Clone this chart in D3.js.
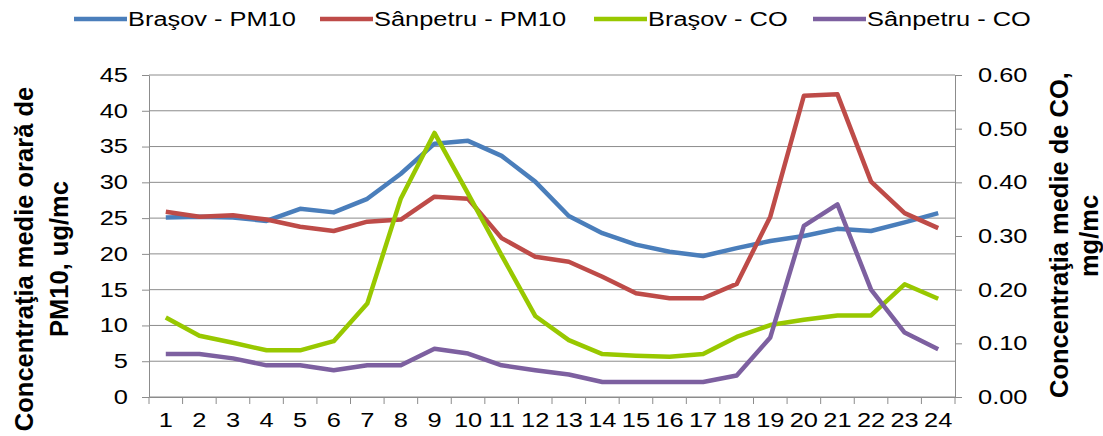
<!DOCTYPE html>
<html lang="ro">
<head>
    <meta charset="UTF-8">
    <title>PM10 / CO</title>
    <script src="https://d3js.org/d3.v7.min.js"></script>
    <style>
        body { margin: 0; background: #fff; }
        text { font-family: "Liberation Sans", Arial, sans-serif; fill: #000; }
    </style>
</head>
<body>
    <div class="canvas"></div>
    <script>
      // date
      const hours = d3.range(1, 25).map(String);
      const brasovPM10 = [25.1, 25.2, 25.1, 24.6, 26.3, 25.8, 27.7, 31.2, 35.4, 35.8, 33.7, 30.1,
                          25.3, 22.9, 21.3, 20.3, 19.7, 20.8, 21.8, 22.5, 23.5, 23.2, 24.4, 25.7];
      const sanpetruPM10 = [25.9, 25.2, 25.4, 24.8, 23.8, 23.2, 24.5, 24.8, 28.0, 27.7, 22.2, 19.6,
                            18.9, 16.8, 14.5, 13.8, 13.8, 15.8, 25.2, 42.1, 42.3, 30.1, 25.7, 23.6];
      const brasovCO = [0.148, 0.114, 0.101, 0.087, 0.087, 0.104, 0.174, 0.370, 0.492, 0.379, 0.264, 0.151,
                        0.106, 0.080, 0.077, 0.075, 0.080, 0.112, 0.134, 0.144, 0.152, 0.152, 0.210, 0.183];
      const sanpetruCO = [0.080, 0.080, 0.072, 0.059, 0.059, 0.050, 0.059, 0.059, 0.090, 0.081, 0.059, 0.050,
                          0.042, 0.028, 0.028, 0.028, 0.028, 0.040, 0.111, 0.319, 0.359, 0.200, 0.120, 0.089];
      const leftTicks = d3.range(0, 50, 5);
      const rightTicks = [0, 0.1, 0.2, 0.3, 0.4, 0.5, 0.6];

      const series = [
        { name: 'Braşov - PM10', values: brasovPM10, axis: 'left', color: '#4a7ebb' },
        { name: 'Sânpetru - PM10', values: sanpetruPM10, axis: 'left', color: '#be4b48' },
        { name: 'Braşov - CO', values: brasovCO, axis: 'right', color: '#98c800' },
        { name: 'Sânpetru - CO', values: sanpetruCO, axis: 'right', color: '#7d60a0' }
      ];

      const width = 1103;
      const height = 436;
      const [pl, pr, pt, pb] = [149, 955, 75, 397];
      const SX = 1.27; // textul orizontal din original e intins
      const gridColor = '#8c8c8c';

      const svg = d3.select('.canvas')
                      .append('svg')
                      .attr('width', width)
                      .attr('height', height);

      const x = d3.scaleBand().domain(hours).range([pl, pr]);
      const yL = d3.scaleLinear().domain([0, 45]).range([pb, pt]);
      const yR = d3.scaleLinear().domain([0, 0.6]).range([pb, pt]);

      // gridlines
      svg.append('g').selectAll('line')
        .data(leftTicks)
        .join('line')
        .attr('x1', pl).attr('x2', pr)
        .attr('y1', d => yL(d)).attr('y2', d => yL(d))
        .attr('stroke', gridColor).attr('stroke-width', 1);

      function stretchText(g) {
        g.selectAll('.tick text').each(function () {
          const t = d3.select(this);
          const tx = +t.attr('x') || 0;
          const ty = +t.attr('y') || 0;
          t.attr('x', 0).attr('y', 0)
            .attr('transform', `translate(${tx},${ty}) scale(${SX},1)`);
        });
      }

      function styleAxis(g) {
        g.select('.domain').attr('stroke', gridColor);
        g.selectAll('.tick line').attr('stroke', gridColor);
        g.selectAll('.tick text').style('font-size', '20px').attr('fill', '#000');
      }

      svg.append('g')
        .attr('transform', `translate(${pl},0)`)
        .call(d3.axisLeft(yL).tickValues(leftTicks).tickSize(7).tickSizeOuter(0).tickPadding(14))
        .call(styleAxis)
        .call(stretchText);

      const yAxisR = svg.append('g')
        .attr('transform', `translate(${pr},0)`)
        .call(d3.axisRight(yR).tickValues(rightTicks).tickFormat(d3.format('.2f'))
              .tickSize(7).tickSizeOuter(0).tickPadding(16))
        .call(styleAxis)
        .call(stretchText);
      yAxisR.selectAll('.tick text').attr('text-anchor', 'start');

      // axa x: tick-uri la limitele categoriilor
      const xAxisG = svg.append('g')
        .attr('transform', `translate(0,${pb})`)
        .call(d3.axisBottom(x).tickSize(0).tickPadding(16))
        .call(styleAxis)
        .call(stretchText);
      xAxisG.selectAll('.bound')
        .data(d3.range(0, 25))
        .join('line')
        .attr('class', 'bound')
        .attr('x1', i => pl + i * x.step()).attr('x2', i => pl + i * x.step())
        .attr('y1', 0).attr('y2', 7)
        .attr('stroke', gridColor);

      // linii
      const lineL = d3.line().x((d, i) => x(hours[i]) + x.bandwidth() / 2).y(d => yL(d));
      const lineR = d3.line().x((d, i) => x(hours[i]) + x.bandwidth() / 2).y(d => yR(d));

      svg.append('g').selectAll('path')
        .data(series)
        .join('path')
        .attr('fill', 'none')
        .attr('stroke', d => d.color)
        .attr('stroke-width', 4.5)
        .attr('stroke-linejoin', 'round')
        .attr('d', d => (d.axis === 'left' ? lineL : lineR)(d.values));

      // titluri axe (tx = linia de baza)
      function axisTitle(txt, tx, ty) {
        svg.append('text')
          .attr('transform', `translate(${tx},${ty}) rotate(-90)`)
          .attr('text-anchor', 'middle')
          .style('font-size', '25.5px')
          .style('font-weight', 'bold')
          .text(txt);
      }
      axisTitle('Concentraţia medie orară de', 33, 259);
      axisTitle('PM10, ug/mc', 68, 259);
      axisTitle('Concentraţia medie de CO,', 1068, 235);
      axisTitle('mg/mc', 1098, 236);

      // legenda
      const legendX = [74, 320, 594, 813];
      const legend = svg.append('g').selectAll('g')
        .data(series)
        .join('g')
        .attr('transform', (d, i) => `translate(${legendX[i]},19)`);
      legend.append('line')
        .attr('x1', 0).attr('x2', 53)
        .attr('stroke', d => d.color)
        .attr('stroke-width', 4.5);
      legend.append('text')
        .attr('transform', `translate(54,0) scale(${SX},1)`)
        .attr('dy', '0.35em')
        .style('font-size', '20px')
        .text(d => d.name);
    </script>
</body>
</html>
